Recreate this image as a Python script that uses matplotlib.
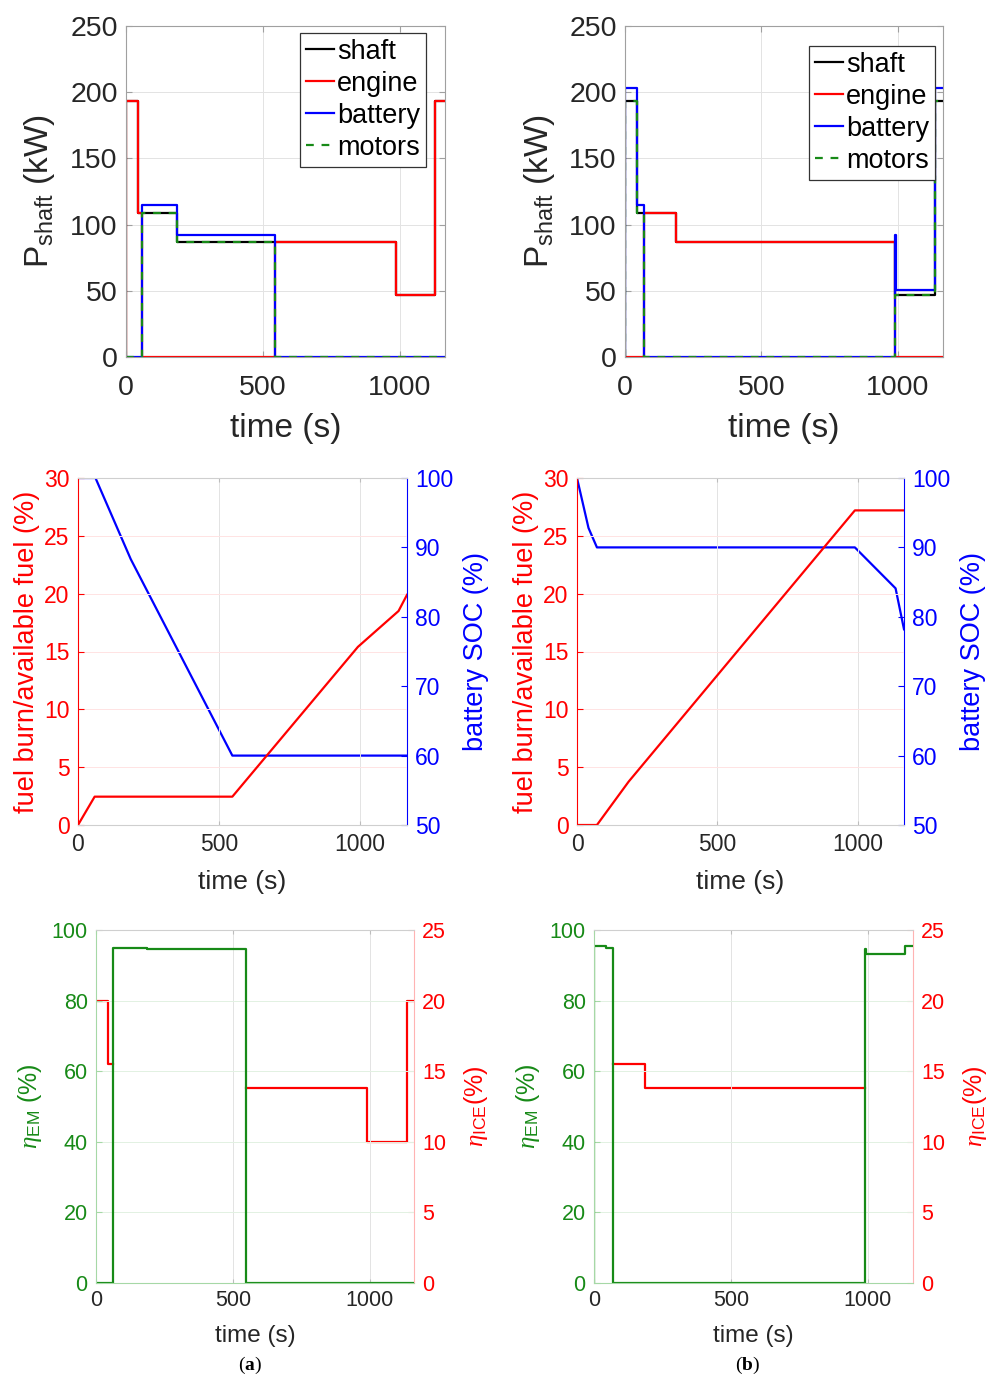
import matplotlib
matplotlib.use('Agg')
import matplotlib.pyplot as plt
import numpy as np

plt.rcParams['font.family'] = ['Liberation Sans', 'DejaVu Sans']
plt.rcParams['mathtext.fontset'] = 'custom'
plt.rcParams['mathtext.rm'] = 'Liberation Sans'
plt.rcParams['mathtext.it'] = 'Liberation Serif:italic'
plt.rcParams['mathtext.bf'] = 'Liberation Serif:bold'

nan = np.nan

# ---------------- data ----------------
# (a) power split
t_pw_a = [0, 0, 45, 60, 186, 543, 987, 1129, 1164]
shaft_a = [0, 193, 109, 109, 86.5, 86.5, 47, 193, 193]
engine_a = [0, 193, 109, 0, 0, 86.5, 47, 193, 193]
battery_a = [0, 0, 0, 115, 92, 0, 0, 0, 0]
motors_a = [0, 0, 0, 109, 86.5, 0, 0, 0, 0]
# (b) power split
t_pw_b = [0, 0, 43, 71, 187, 990, 993, 1134, 1165]
shaft_b = [0, 193, 109, 109, 86.5, 47, 47, 193, 193]
engine_b = [0, 0, 0, 109, 86.5, 0, 0, 0, 0]
battery_b = [0, 203, 115, 0, 0, 92, 50.5, 203, 203]
motors_b = [0, 193, 109, 0, 0, 47, 47, 193, 193]

# fuel burn and SOC
t_fuel_a = [0, 59, 547, 992, 1136, 1166]
fuel_a = [0, 2.45, 2.45, 15.4, 18.5, 19.9]
t_soc_a = [0, 62, 187, 547, 1166]
soc_a = [100, 100, 88.3, 60, 60]
t_fuel_b = [0, 71, 184, 990, 1165]
fuel_b = [0, 0, 3.75, 27.2, 27.2]
t_soc_b = [0, 41, 71, 990, 1135, 1165]
soc_b = [100, 92.8, 90, 90, 84.1, 78.2]

# efficiencies (ICE efficiency undefined while engine is off)
t_eff_a = [0, 44, 61, 186, 547, 990, 1134, 1161]
em_a = [0, 0, 95, 94.6, 0, 0, 0, 0]
ice_a = [20, 15.5, nan, nan, 13.8, 10, 20, 20]
t_eff_b = [0, 0, 43, 71, 187, 991, 994, 1138, 1166]
em_b = [0, 95.5, 94.8, 0, 0, 94.5, 93.3, 95.5, 95.5]
ice_b = [nan, nan, nan, 15.5, 13.8, nan, nan, nan, nan]

x_ticks = [0, 500, 1000]
pw_ticks = [0, 50, 100, 150, 200, 250]
fuel_ticks = [0, 5, 10, 15, 20, 25, 30]
soc_ticks = [50, 60, 70, 80, 90, 100]
em_ticks = [0, 20, 40, 60, 80, 100]
ice_ticks = [0, 5, 10, 15, 20, 25]

# ---------------- styling ----------------
W, H = 998, 1378
RED = '#ff0000'
BLUE = '#0000ff'
GREEN = '#178a17'
DARK = '#262626'
GRID = '#e3e3e3'
BOX = '#a0a0a0'
LW = 1.6

fig = plt.figure(figsize=(W / 100, H / 100), dpi=100)


def rect(x0, y0, x1, y1):
    return [x0 / W, 1 - y1 / H, (x1 - x0) / W, (y1 - y0) / H]


def power_panel(pos, t, shaft, engine, battery, motors, leg_anchor):
    ax = fig.add_axes(rect(*pos))
    ax.plot(t, shaft, drawstyle='steps-post', color='black', lw=LW, label='shaft')
    ax.plot(t, engine, drawstyle='steps-post', color=RED, lw=LW, label='engine')
    ax.plot(t, battery, drawstyle='steps-post', color=BLUE, lw=LW, label='battery')
    ax.plot(t, motors, drawstyle='steps-post', color=GREEN, lw=LW, ls=(0, (3.5, 3.5)), label='motors')
    ax.set_xlim(0, t[-1])
    ax.set_ylim(0, 250)
    ax.set_xticks(x_ticks)
    ax.set_yticks(pw_ticks)
    ax.grid(True, color=GRID, lw=0.7)
    ax.set_axisbelow(True)
    for s in ax.spines.values():
        s.set_color(BOX)
        s.set_linewidth(0.8)
    ax.tick_params(axis='both', direction='in', length=4, color=BOX, labelcolor=DARK,
                   labelsize=20.5, top=True, right=True)
    ax.tick_params(axis='y', pad=6)
    ax.tick_params(axis='x', pad=13)
    ax.set_xlabel('time (s)', fontsize=24, color=DARK, va='center')
    ax.xaxis.set_label_coords(0.5, -0.215)
    ax.set_ylabel(r'$\mathregular{P_{shaft}}$ (kW)', fontsize=24, color=DARK, va='center')
    ax.yaxis.set_label_coords(-0.27, 0.5)
    leg = ax.legend(loc='upper right', bbox_to_anchor=(leg_anchor[0] / W, 1 - leg_anchor[1] / H),
                    bbox_transform=fig.transFigure, borderaxespad=0, fontsize=19.5,
                    fancybox=False, framealpha=1, edgecolor='#333333', handlelength=1.05,
                    handletextpad=0.1, labelspacing=0.22, borderpad=0.22)
    leg.get_frame().set_linewidth(0.9)
    return ax


def fuel_panel(pos, tf, fuel, ts, soc):
    ax = fig.add_axes(rect(*pos))
    tw = ax.twinx()
    ax.set_zorder(tw.get_zorder() + 1)
    ax.patch.set_visible(False)
    tw.plot(ts, soc, color=BLUE, lw=LW)
    ax.plot(tf, fuel, color=RED, lw=LW)
    ax.set_xlim(0, tf[-1])
    ax.set_ylim(0, 30)
    tw.set_ylim(50, 100)
    ax.set_xticks(x_ticks)
    ax.set_yticks(fuel_ticks)
    tw.set_yticks(soc_ticks)
    ax.xaxis.grid(True, color=GRID, lw=0.7)
    ax.yaxis.grid(True, color='#ffe3e3', lw=0.7)
    for a in (ax, tw):
        for s in a.spines.values():
            s.set_visible(False)
    ax.spines['left'].set_visible(True)
    ax.spines['left'].set_color(RED)
    ax.spines['top'].set_visible(True)
    ax.spines['top'].set_color('#cfcfcf')
    ax.spines['bottom'].set_visible(True)
    ax.spines['bottom'].set_color('#cfcfcf')
    tw.spines['right'].set_visible(True)
    tw.spines['right'].set_color(BLUE)
    ax.tick_params(axis='x', direction='in', length=3, color='#bdbdbd', labelcolor=DARK,
                   labelsize=16.5, pad=6, top=True)
    ax.tick_params(axis='y', direction='in', length=4, color=RED, labelcolor=RED,
                   labelsize=16.5, pad=6)
    tw.tick_params(axis='y', direction='in', length=4, color=BLUE, labelcolor=BLUE,
                   labelsize=16.5, pad=6)
    ax.set_xlabel('time (s)', fontsize=19, color=DARK, va='center')
    ax.xaxis.set_label_coords(0.5, -0.164)
    ax.set_ylabel('fuel burn/available fuel (%)', fontsize=19.5, color=RED, va='center')
    ax.yaxis.set_label_coords(-0.155, 0.5)
    tw.set_ylabel('battery SOC (%)', fontsize=19.5, color=BLUE, va='center')
    tw.yaxis.set_label_coords(1.211, 0.5)
    return ax


def eff_panel(pos, t, em, ice):
    ax = fig.add_axes(rect(*pos))
    tw = ax.twinx()
    ax.set_zorder(tw.get_zorder() + 1)
    ax.patch.set_visible(False)
    tw.plot(t, ice, drawstyle='steps-post', color=RED, lw=LW)
    ax.plot(t, em, drawstyle='steps-post', color=GREEN, lw=LW)
    ax.set_xlim(0, t[-1])
    ax.set_ylim(0, 100)
    tw.set_ylim(0, 25)
    ax.set_xticks(x_ticks)
    ax.set_yticks(em_ticks)
    tw.set_yticks(ice_ticks)
    ax.xaxis.grid(True, color=GRID, lw=0.7)
    ax.yaxis.grid(True, color='#e2f1e2', lw=0.7)
    for a in (ax, tw):
        for s in a.spines.values():
            s.set_visible(False)
    ax.spines['left'].set_visible(True)
    ax.spines['left'].set_color('#a6d8a6')
    ax.spines['top'].set_visible(True)
    ax.spines['top'].set_color('#cfcfcf')
    ax.spines['bottom'].set_visible(True)
    ax.spines['bottom'].set_color('#a6d8a6')
    tw.spines['right'].set_visible(True)
    tw.spines['right'].set_color('#ffb3b3')
    ax.tick_params(axis='x', direction='in', length=3, color='#bdbdbd', labelcolor=DARK,
                   labelsize=15.5, pad=5, top=True)
    ax.tick_params(axis='y', direction='in', length=4, color='#a6d8a6', labelcolor=GREEN,
                   labelsize=15.5, pad=6)
    tw.tick_params(axis='y', direction='in', length=4, color='#ffb3b3', labelcolor=RED,
                   labelsize=15.5, pad=6)
    ax.set_xlabel('time (s)', fontsize=17.5, color=DARK, va='center')
    ax.xaxis.set_label_coords(0.5, -0.150)
    ax.set_ylabel(r'$\eta_{\mathregular{EM}}$ (%)', fontsize=18, color=GREEN, va='center')
    ax.yaxis.set_label_coords(-0.2075, 0.5)
    tw.set_ylabel(r'$\eta_{\mathregular{ICE}}$(%)', fontsize=18, color=RED, va='center')
    tw.yaxis.set_label_coords(1.195, 0.5)
    return ax


power_panel((126, 26, 445, 357), t_pw_a, shaft_a, engine_a, battery_a, motors_a, (426, 33))
power_panel((625, 26, 943, 357), t_pw_b, shaft_b, engine_b, battery_b, motors_b, (935, 46))
fuel_panel((78, 478, 407, 825), t_fuel_a, fuel_a, t_soc_a, soc_a)
fuel_panel((577, 478, 904, 825), t_fuel_b, fuel_b, t_soc_b, soc_b)
eff_panel((96, 930, 414, 1283), t_eff_a, em_a, ice_a)
eff_panel((594, 930, 913, 1283), t_eff_b, em_b, ice_b)

fig.text(250 / W, 1 - 1365 / H, r'($\mathbf{a}$)', family='Liberation Serif', fontsize=14,
         ha='center', va='center')
fig.text(748 / W, 1 - 1365 / H, r'($\mathbf{b}$)', family='Liberation Serif', fontsize=14,
         ha='center', va='center')

fig.savefig('out.png', dpi=100)
